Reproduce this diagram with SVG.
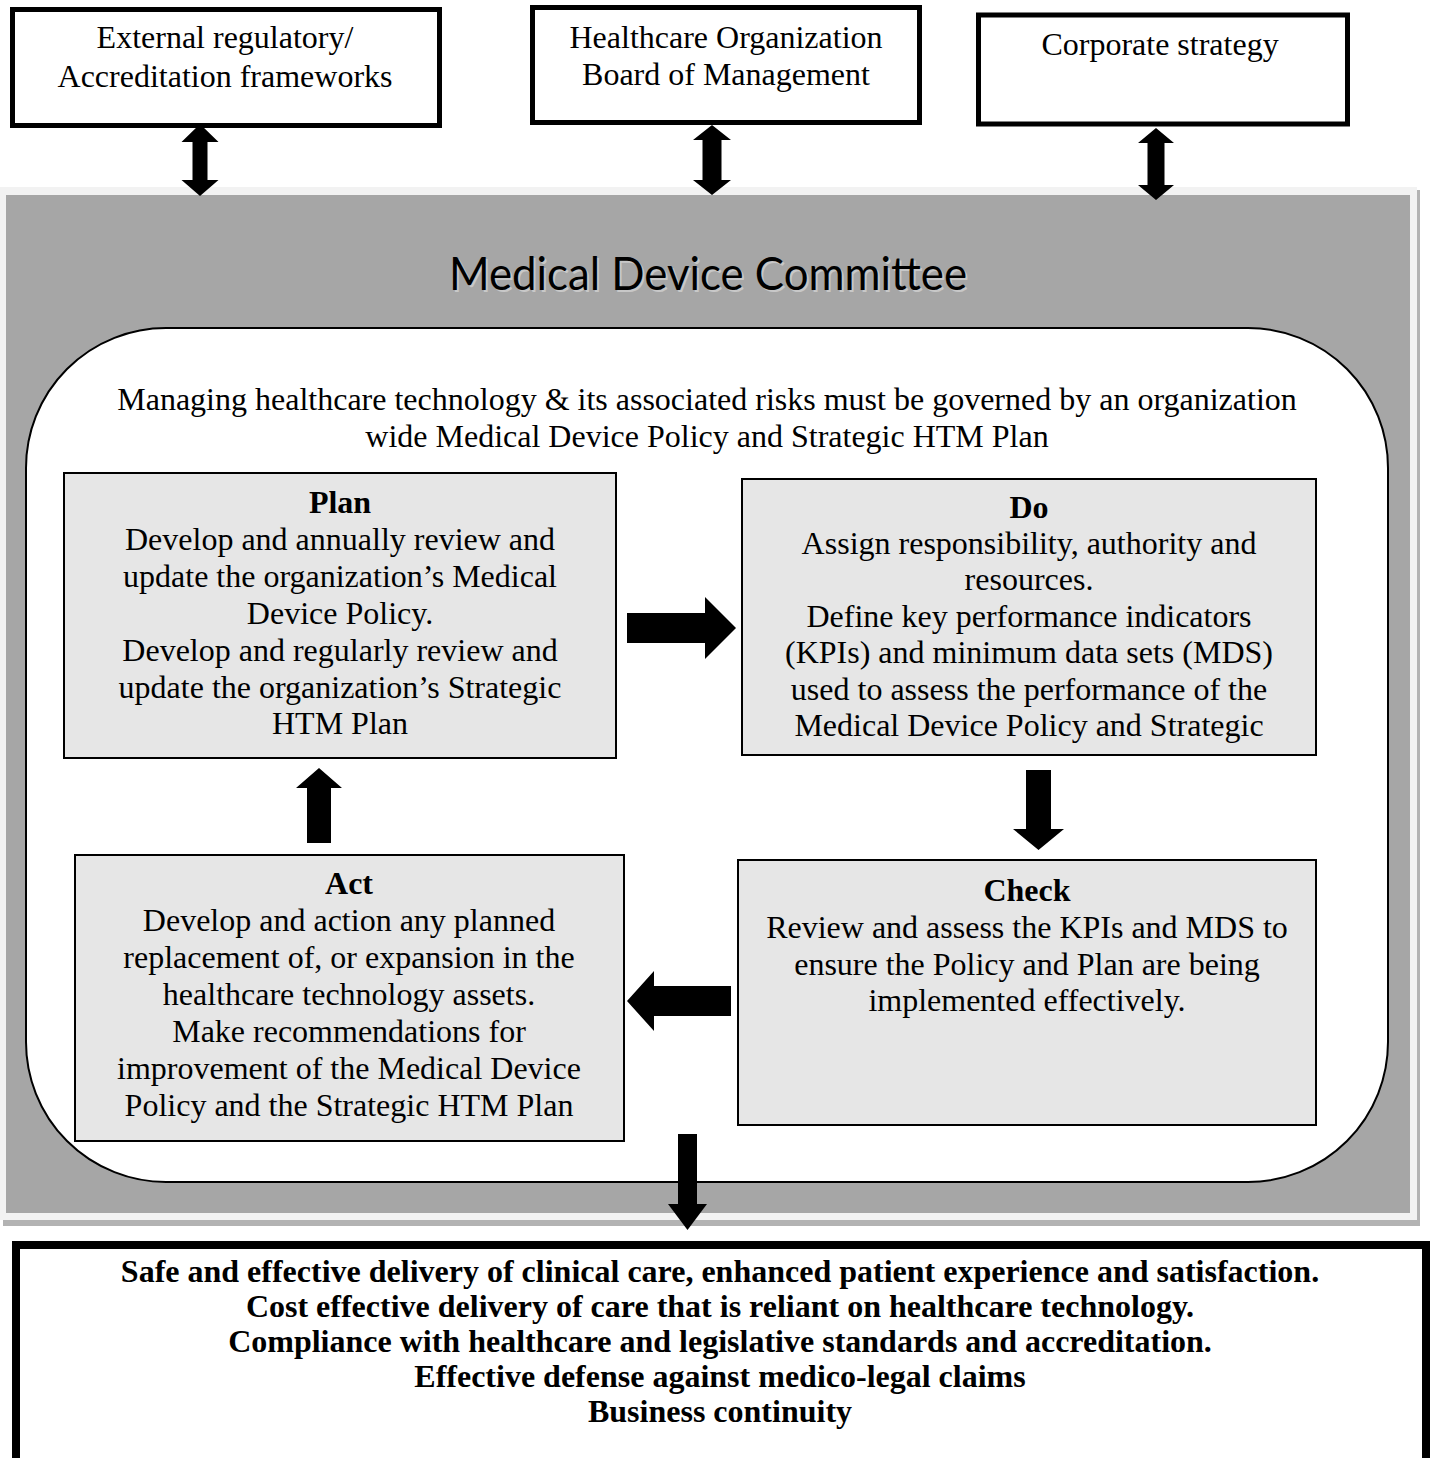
<svg xmlns="http://www.w3.org/2000/svg" width="1433" height="1458" viewBox="0 0 1433 1458">
<style>
.t{font-family:"Liberation Serif","Times New Roman",serif;font-size:32px;fill:#000;text-anchor:middle}
.b{font-weight:bold}
.box{fill:#fff;stroke:#000;stroke-width:5}
.pbox{fill:#e6e6e6;stroke:#000;stroke-width:2}
.arr{fill:#000}
</style>
<rect width="1433" height="1458" fill="#fff"/>
<g id="committee-panel">
<rect x="3" y="190" width="1417" height="1036" fill="#b3b3b3"/>
<rect x="0" y="187" width="1417" height="1033" fill="#f2f2f2"/>
<rect x="6" y="195" width="1404" height="1018" fill="#a6a6a6"/>
<text x="710" y="292" font-family="Lato,'Open Sans',sans-serif" font-size="46" fill="#c8c8c8" text-anchor="middle" textLength="518" lengthAdjust="spacingAndGlyphs">Medical Device Committee</text>
<text x="708" y="290" font-family="Lato,'Open Sans',sans-serif" font-size="46" fill="#000" text-anchor="middle" textLength="518" lengthAdjust="spacingAndGlyphs">Medical Device Committee</text>
<rect x="26" y="328" width="1362" height="854" rx="140" ry="140" fill="#fff" stroke="#000" stroke-width="2"/>
<text class="t" x="707" y="410">Managing healthcare technology &amp; its associated risks must be governed by an organization</text>
<text class="t" x="707" y="447">wide Medical Device Policy and Strategic HTM Plan</text>
</g>
<g id="external">
<rect class="box" x="12.5" y="9.5" width="427" height="116"/>
<text class="t" x="225" y="48">External regulatory/</text>
<text class="t" x="225" y="87">Accreditation frameworks</text>
</g>
<g id="board">
<rect class="box" x="532.5" y="7.5" width="387" height="115"/>
<text class="t" x="726" y="48">Healthcare Organization</text>
<text class="t" x="726" y="85">Board of Management</text>
</g>
<g id="corporate">
<rect class="box" x="978.5" y="15" width="369" height="109"/>
<text class="t" x="1160" y="55">Corporate strategy</text>
</g>
<g id="plan">
<rect class="pbox" x="64" y="473" width="552" height="285"/>
<text class="t b" x="340" y="513">Plan</text>
<text class="t" x="340" y="550">Develop and annually review and</text>
<text class="t" x="340" y="587">update the organization’s Medical</text>
<text class="t" x="340" y="624">Device Policy.</text>
<text class="t" x="340" y="661">Develop and regularly review and</text>
<text class="t" x="340" y="698">update the organization’s Strategic</text>
<text class="t" x="340" y="734">HTM Plan</text>
</g>
<g id="do">
<rect class="pbox" x="742" y="479" width="574" height="276"/>
<text class="t b" x="1029" y="518">Do</text>
<text class="t" x="1029" y="554">Assign responsibility, authority and</text>
<text class="t" x="1029" y="590">resources.</text>
<text class="t" x="1029" y="627">Define key performance indicators</text>
<text class="t" x="1029" y="663">(KPIs) and minimum data sets (MDS)</text>
<text class="t" x="1029" y="700">used to assess the performance of the</text>
<text class="t" x="1029" y="736">Medical Device Policy and Strategic</text>
</g>
<g id="check">
<rect class="pbox" x="738" y="860" width="578" height="265"/>
<text class="t b" x="1027" y="901">Check</text>
<text class="t" x="1027" y="938">Review and assess the KPIs and MDS to</text>
<text class="t" x="1027" y="975">ensure the Policy and Plan are being</text>
<text class="t" x="1027" y="1011">implemented effectively.</text>
</g>
<g id="act">
<rect class="pbox" x="75" y="855" width="549" height="286"/>
<text class="t b" x="349" y="894">Act</text>
<text class="t" x="349" y="931">Develop and action any planned</text>
<text class="t" x="349" y="968">replacement of, or expansion in the</text>
<text class="t" x="349" y="1005">healthcare technology assets.</text>
<text class="t" x="349" y="1042">Make recommendations for</text>
<text class="t" x="349" y="1079">improvement of the Medical Device</text>
<text class="t" x="349" y="1116">Policy and the Strategic HTM Plan</text>
</g>
<g id="outcomes">
<rect x="16" y="1245" width="1410" height="240" fill="#fff" stroke="#000" stroke-width="8"/>
<text class="t b" x="720" y="1282">Safe and effective delivery of clinical care, enhanced patient experience and satisfaction.</text>
<text class="t b" x="720" y="1317">Cost effective delivery of care that is reliant on healthcare technology.</text>
<text class="t b" x="720" y="1352">Compliance with healthcare and legislative standards and accreditation.</text>
<text class="t b" x="720" y="1387">Effective defense against medico-legal claims</text>
<text class="t b" x="720" y="1422">Business continuity</text>
</g>
<g id="connectors">
<polygon class="arr" points="200,124 218.5,142 207.5,142 207.5,180 218.5,180 200,196 181.5,180 192.5,180 192.5,142 181.5,142"/>
<polygon class="arr" points="712,125 731,140 721.5,140 721.5,180 731,180 712,195 693,180 702.5,180 702.5,140 693,140"/>
<polygon class="arr" points="1156,128 1174,143 1164.5,143 1164.5,185 1174,185 1156,200 1138,185 1147.5,185 1147.5,143 1138,143"/>
<polygon class="arr" points="627,613 705,613 705,597 736,628 705,659 705,643 627,643"/>
<polygon class="arr" points="1026,770 1051,770 1051,829 1064,829 1038.5,850 1013,829 1026,829"/>
<polygon class="arr" points="731,986 731,1016 654,1016 654,1031 627,1001 654,971 654,986"/>
<polygon class="arr" points="319,768 342,788 331,788 331,843 307,843 307,788 296,788"/>
<polygon class="arr" points="678,1134 697,1134 697,1204 707,1204 687.5,1230 668,1204 678,1204"/>
</g>
</svg>
